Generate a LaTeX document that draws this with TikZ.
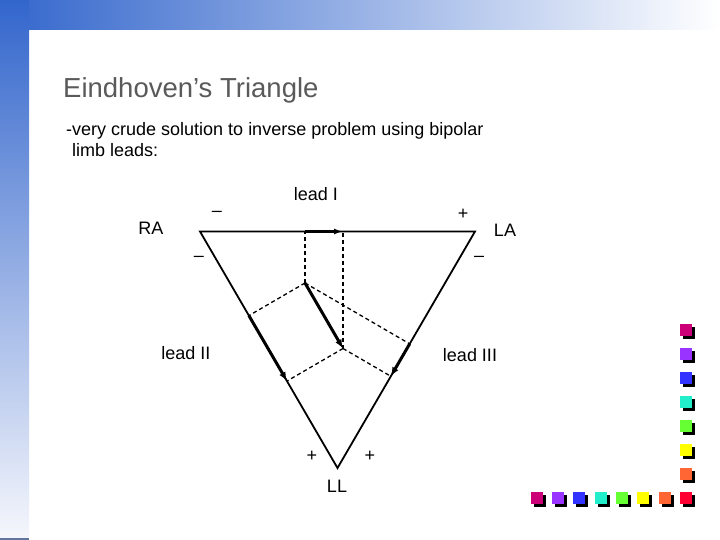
\documentclass[tikz,border=0pt]{standalone}
\usepackage{fontspec}
\setmainfont{Liberation Sans}
\usetikzlibrary{calc,arrows.meta}
\definecolor{slideblue}{HTML}{3366CC}
\definecolor{midtop}{HTML}{B4BAE2}
\definecolor{midleft}{HTML}{9AA6DC}
\definecolor{leftend}{HTML}{F6F7FC}
\definecolor{titlegray}{HTML}{5A5A5A}
\definecolor{sqmag}{HTML}{CC0077}
\definecolor{sqpur}{HTML}{9933FF}
\definecolor{sqblu}{HTML}{3333FF}
\definecolor{sqcya}{HTML}{22EECC}
\definecolor{sqgre}{HTML}{66FF33}
\definecolor{sqyel}{HTML}{FFFF00}
\definecolor{sqora}{HTML}{FF6633}
\definecolor{sqred}{HTML}{FF0033}
\tikzset{
  lbl/.style={font=\fontsize{18}{21}\selectfont, inner sep=0pt},
  edge/.style={line width=1.8pt, line join=miter},
  proj/.style={line width=1.3pt, dash pattern=on 4pt off 3pt},
  vec/.style={line width=3pt, -{Latex[length=9pt,width=7pt]}},
  vecI/.style={line width=2.4pt, -{Latex[length=9pt,width=6pt]}},
  sq/.style={minimum size=12pt, inner sep=0pt, draw=none, fill=#1},
  sqshadow/.style={minimum size=12pt, inner sep=0pt, draw=none, fill=black}
}
\newcommand{\colsq}[4]{%
  \node[sqshadow] (#1s) at (#2+9,#3+9) {};
  \node[sq=#4] (#1) at (#2+6,#3+6) {};}
\begin{document}
\begin{tikzpicture}[x=1pt,y=-1pt]
\useasboundingbox (0,0) rectangle (720,540);
\fill[white] (0,0) rectangle (720,540);
% background bands
\shade[left color=slideblue, middle color=midtop, right color=white] (0,0) rectangle (720,30);
\shade[top color=slideblue, middle color=midleft, bottom color=leftend] (0,0) rectangle (29,540);
\fill[slideblue!40!gray] (0,537.5) rectangle (29,540);
% texts
\node[anchor=base west, inner sep=0pt, text=titlegray, font=\fontsize{27.5}{32}\selectfont] (title) at (63,98) {Eindhoven’s Triangle};
\node[anchor=base west, inner sep=0pt, font=\fontsize{18}{21}\selectfont] (line1) at (66,136) {-very crude solution to inverse problem using bipolar};
\node[anchor=base west, inner sep=0pt, font=\fontsize{18}{21}\selectfont] (line2) at (72,156.5) {limb leads:};
% triangle
\coordinate (RA) at (200,231.5);
\coordinate (LA) at (475,231.5);
\coordinate (LL) at (337.5,468);
\coordinate (H1) at (305,283);
\coordinate (H2) at (343,348.5);
\coordinate (I1) at ($(RA)!(H1)!(LA)$);
\coordinate (I2) at ($(RA)!(H2)!(LA)$);
\coordinate (II1) at ($(RA)!(H1)!(LL)$);
\coordinate (II2) at ($(RA)!(H2)!(LL)$);
\coordinate (III1) at ($(LA)!(H1)!(LL)$);
\coordinate (III2) at ($(LA)!(H2)!(LL)$);
\draw[proj] (H1) -- (I1);
\draw[proj] (H2) -- (I2);
\draw[proj] (H1) -- (II1);
\draw[proj] (H2) -- (II2);
\draw[proj] (H1) -- (III1);
\draw[proj] (H2) -- (III2);
\draw[edge] (RA) -- (LA) -- (LL) -- cycle;
\draw[vecI] (I1) -- (I2);
\draw[vec] (H1) -- (H2);
\draw[vec] (II1) -- (II2);
\draw[vec] (III1) -- (III2);
% labels
\node[lbl] (leadI) at (316,194) {lead I};
\node[lbl] (ralbl) at (151,228) {RA};
\node[lbl] (lalbl) at (505,230) {LA};
\node[lbl] (llbl) at (337,486) {LL};
\node[lbl] (leadII) at (186,353) {lead II};
\node[lbl] (leadIII) at (470,355) {lead III};
\node[lbl] (m1) at (217,214) {–};
\node[lbl] (p1) at (463,214) {+};
\node[lbl] (m2) at (199,259) {–};
\node[lbl] (m3) at (479,259) {–};
\node[lbl] (p2) at (312,456) {+};
\node[lbl] (p3) at (370,456) {+};
% decorative squares
\colsq{r1}{680}{324}{sqmag}
\colsq{r2}{680}{348}{sqpur}
\colsq{r3}{680}{372}{sqblu}
\colsq{r4}{680}{396}{sqcya}
\colsq{r5}{680}{420}{sqgre}
\colsq{r6}{680}{444}{sqyel}
\colsq{r7}{680}{468}{sqora}
\colsq{b1}{531}{492}{sqmag}
\colsq{b2}{552}{492}{sqpur}
\colsq{b3}{573}{492}{sqblu}
\colsq{b4}{595}{492}{sqcya}
\colsq{b5}{616}{492}{sqgre}
\colsq{b6}{637}{492}{sqyel}
\colsq{b7}{659}{492}{sqora}
\colsq{b8}{680}{492}{sqred}
\end{tikzpicture}
\end{document}
